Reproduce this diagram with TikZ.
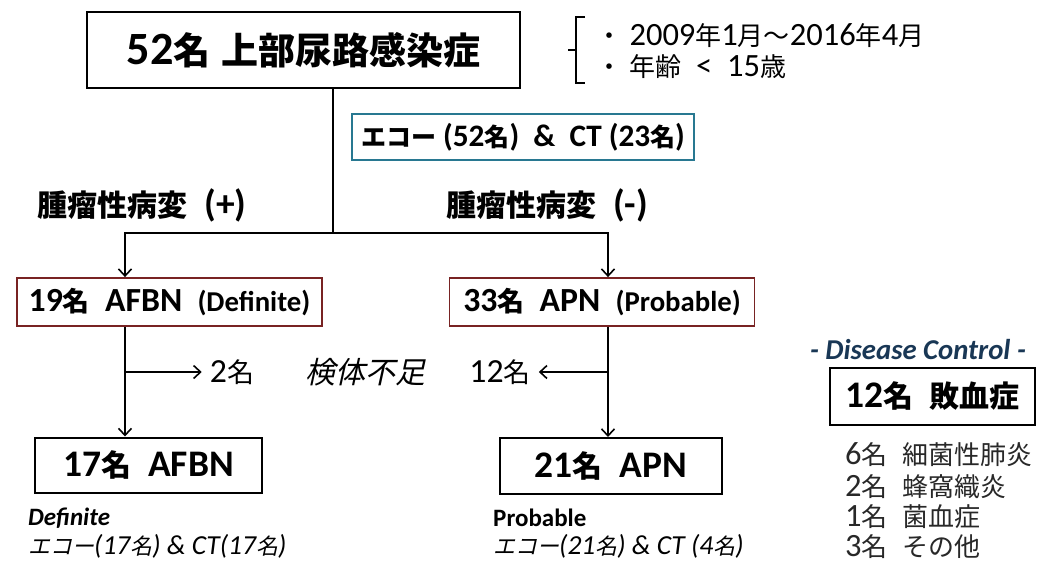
\documentclass[tikz,border=0pt]{standalone}
\usepackage{fontspec}
\setmainfont{Carlito}[Scale=1.25]
\newfontfamily\jp{Noto Sans CJK JP}
\newfontfamily\jpit{Noto Sans CJK JP}[FakeSlant=0.22]
\newcommand\J[1]{{\jp#1}}
\newcommand\JI[1]{{\jpit#1}}
\newcommand\fs[1]{\fontsize{#1}{#1}\selectfont}
\usetikzlibrary{arrows.meta}
\definecolor{ecoteal}{RGB}{40,120,145}
\definecolor{boxred}{RGB}{120,35,35}
\definecolor{dcblue}{RGB}{25,55,85}
\definecolor{listgray}{RGB}{40,40,40}
\tikzset{
  box/.style={draw, line width=2pt, inner sep=0pt, anchor=center, align=center},
  conn/.style={line width=2pt},
  arr/.style={line width=2pt, -{Straight Barb[length=7pt,width=13pt,line width=1.6pt]}},
  lbl/.style={inner sep=0pt, anchor=center},
  wlbl/.style={inner sep=0pt, anchor=west},
}
\begin{document}
\begin{tikzpicture}[x=1pt,y=-1pt]
\useasboundingbox (0,0) rectangle (1060,563);
% boxes
\node[box, line width=2.6pt, minimum width=433pt, minimum height=76pt] (top) at (303.5,50)
  {\fs{37}\bfseries 52\J{名} \J{上部尿路感染症}};
\node[box, draw=ecoteal, line width=1.6pt, minimum width=342pt, minimum height=46pt] (eco) at (523,137)
  {\fs{25}\bfseries \J{エコー} (52\J{名})\ \ \&\ \ CT (23\J{名})};
\node[box, draw=boxred, line width=1.8pt, minimum width=305pt, minimum height=48pt] (b19) at (169.5,302)
  {\bfseries\fs{27}19\J{名}\ \ AFBN\ \ \fs{23}(Definite)};
\node[box, draw=boxred, line width=1.8pt, minimum width=305pt, minimum height=48pt] (b33) at (602,302)
  {\bfseries\fs{27}33\J{名}\ \ APN\ \ \fs{23}(Probable)};
\node[box, minimum width=227pt, minimum height=55pt] (b17) at (148.5,465)
  {\bfseries\fs{30}17\J{名}\ \ AFBN};
\node[box, minimum width=222pt, minimum height=56pt] (b21) at (611,466)
  {\bfseries\fs{30}21\J{名}\ \ APN};
\node[box, minimum width=205pt, minimum height=57pt] (sep) at (932.5,396.5)
  {\bfseries\fs{30}12\J{名}\ \ \J{敗血症}};
% criteria bracket
\draw[line width=1.6pt] (585,17) -- (576,17) -- (576,83) -- (585,83);
\draw[line width=1.6pt] (576,50) -- (568,50);
\node[wlbl] (c1) at (596,36) {\fs{26}\J{・}\ 2009\J{年}1\J{月～}2016\J{年}4\J{月}};
\node[wlbl] (c2) at (596,67) {\fs{26}\J{・}\ \J{年齢}\ \ <\ \ 15\J{歳}};
% branch labels
\node[lbl] (plus) at (142,205) {\bfseries\fs{30}\J{腫瘤性病変}\ \ (+)};
\node[lbl] (minus) at (547,205) {\bfseries\fs{30}\J{腫瘤性病変}\ \ (-)};
% connectors
\coordinate (j) at (333,233);
\coordinate (cl) at (125,233);
\coordinate (cr) at (608,233);
\draw[conn] (top.south -| j) -- (j);
\draw[arr] (j) -- (cl) -- (cl |- b19.north);
\draw[arr] (j) -- (cr) -- (cr |- b33.north);
\draw[arr] (b19.south -| cl) -- (b17.north -| cl);
\draw[arr] (b33.south -| cr) -- (b21.north -| cr);
% side branches
\node[lbl] (n2) at (232,372) {\fs{27}2\J{名}};
\node[lbl] (kt) at (365,372) {\fs{30}\JI{検体不足}};
\node[lbl] (n12) at (500,372) {\fs{27}12\J{名}};
\coordinate (sl) at (125,372);
\coordinate (sr) at (608,372);
\draw[arr] (sl) -- ([xshift=-8pt]n2.west);
\draw[arr] (sr) -- ([xshift=8pt]n12.east);
% notes
\node[wlbl] (d1) at (28,518) {\fs{20}\bfseries\itshape Definite};
\node[wlbl] (d2) at (28,546) {\fs{22}\itshape\JI{エコー}(17\JI{名}) \& CT(17\JI{名})};
\node[wlbl] (p1) at (493,518) {\fs{20}\bfseries Probable};
\node[wlbl] (p2) at (493,546) {\fs{22}\itshape\JI{エコー}(21\JI{名}) \& CT (4\JI{名})};
% disease control
\node[lbl, text=dcblue] (dc) at (918,350) {\fs{23}\bfseries\itshape - Disease Control -};
\node[wlbl, text=listgray] (l1) at (845,455) {\fs{26}6\J{名}\ \ \J{細菌性肺炎}};
\node[wlbl, text=listgray] (l2) at (845,487) {\fs{26}2\J{名}\ \ \J{蜂窩織炎}};
\node[wlbl, text=listgray] (l3) at (845,517) {\fs{26}1\J{名}\ \ \J{菌血症}};
\node[wlbl, text=listgray] (l4) at (845,547) {\fs{26}3\J{名}\ \ \J{その他}};
\end{tikzpicture}
\end{document}
